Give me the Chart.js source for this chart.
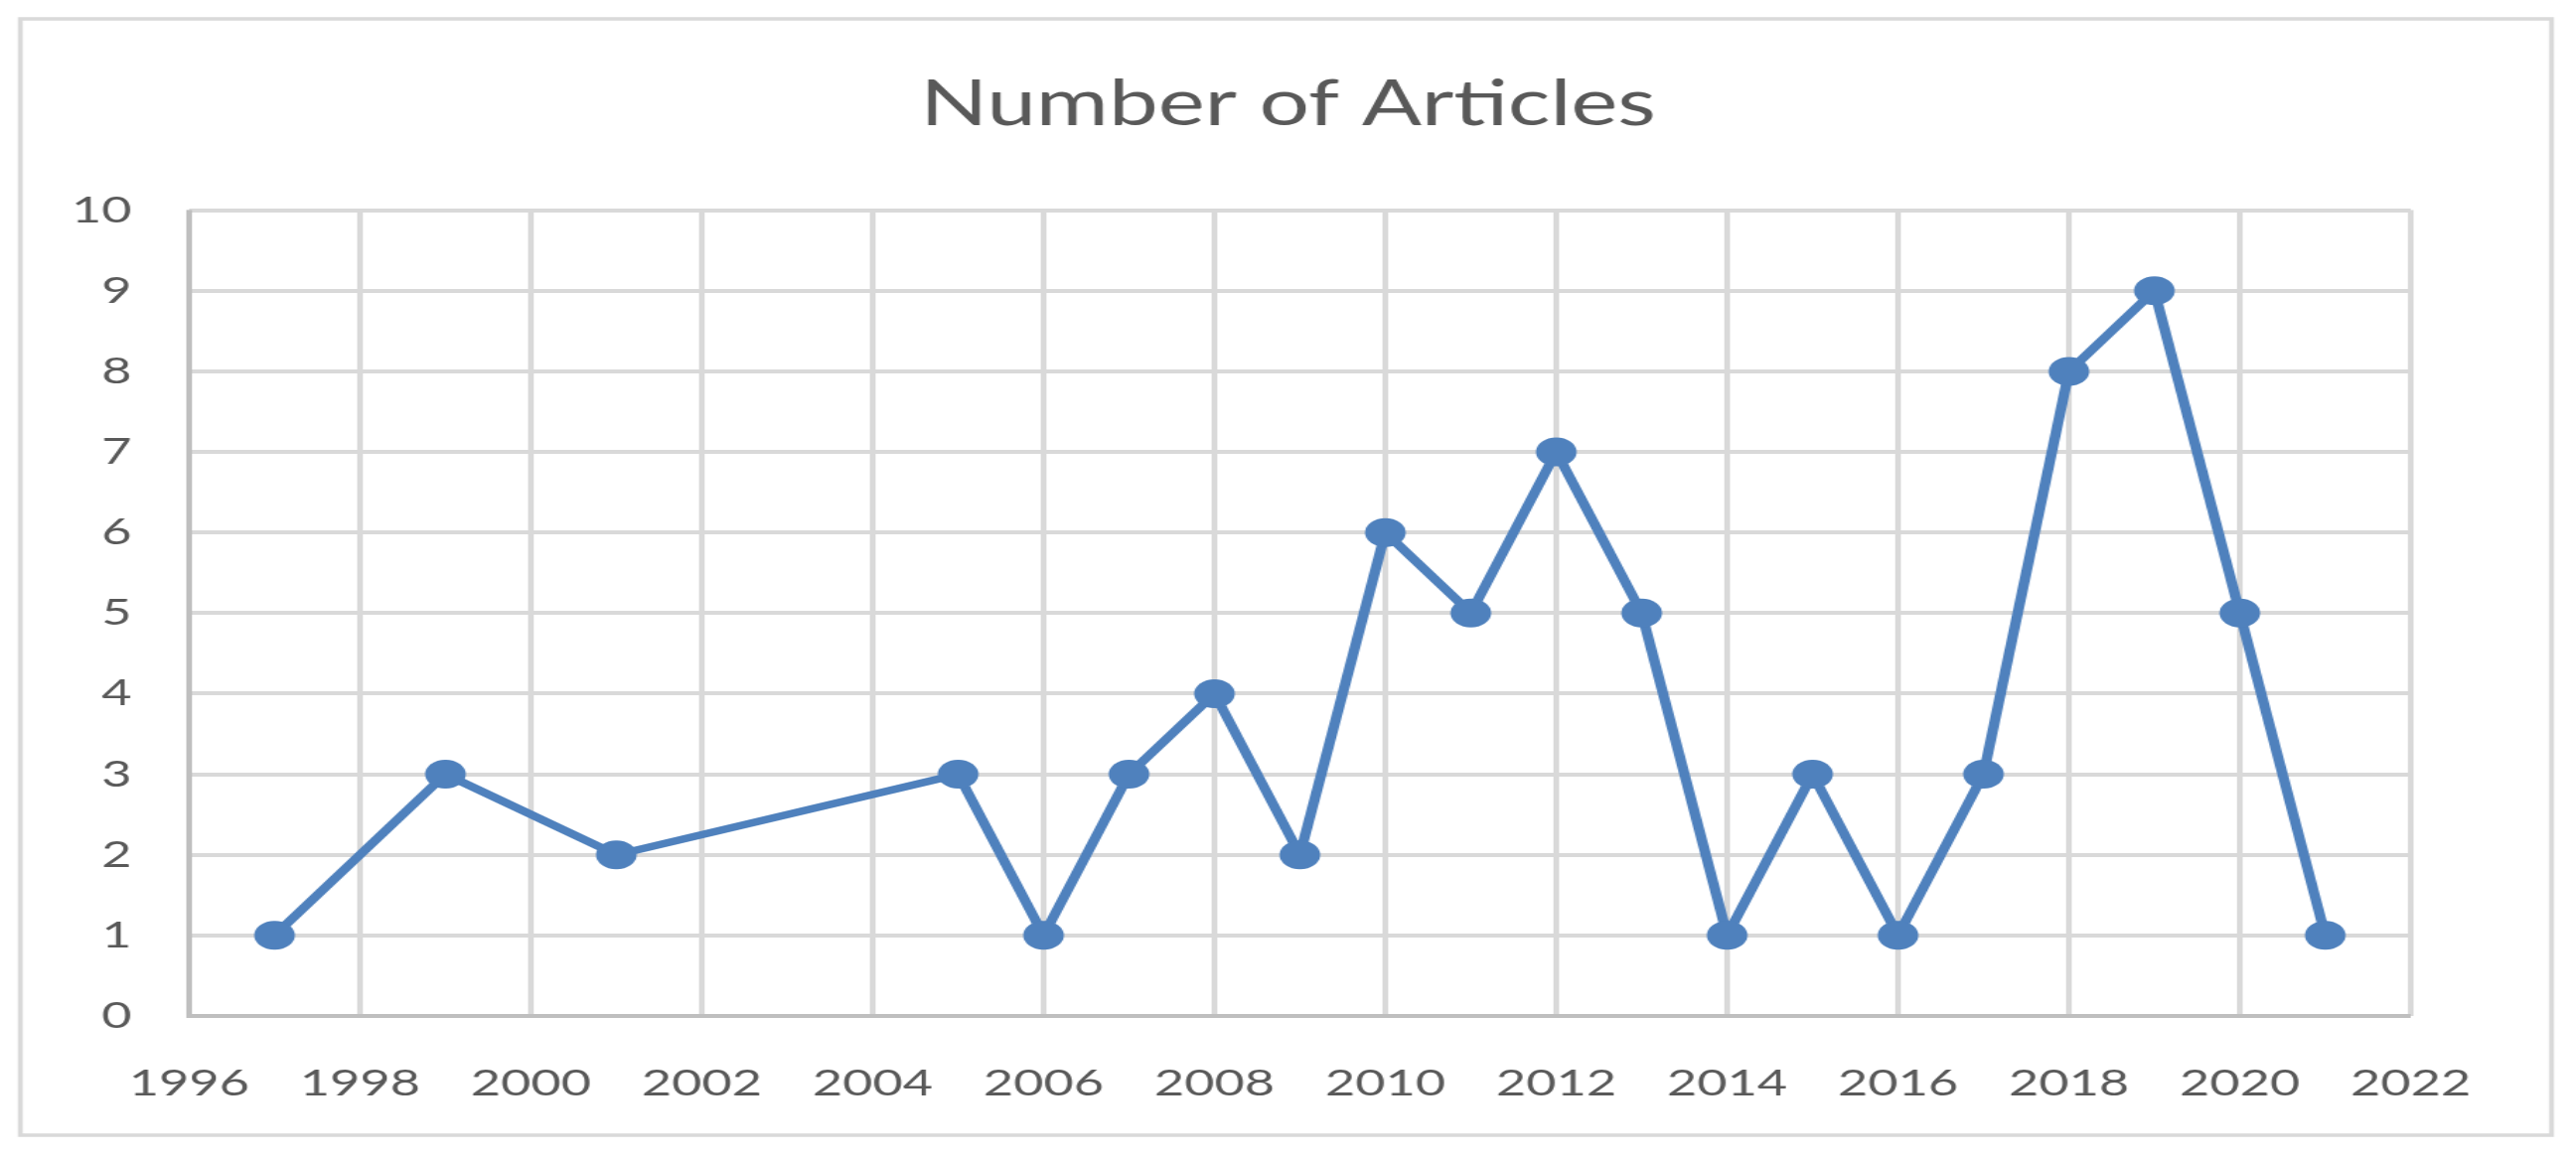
<!DOCTYPE html>
<html>
<head>
<meta charset="utf-8">
<script src="https://cdn.jsdelivr.net/npm/chart.js@4.4.0/dist/chart.umd.min.js"></script>
<style>
html,body{margin:0;padding:0;background:#fff;overflow:hidden;}
#c{position:absolute;left:0;top:0;}
</style>
</head>
<body>
<canvas id="c" width="1839" height="1168" style="width:2593px;height:1168px;"></canvas>
<script>
const years = [1997, 1999, 2001, 2005, 2006, 2007, 2008, 2009, 2010, 2011, 2012, 2013, 2014, 2015, 2016, 2017, 2018, 2019, 2020, 2021];
const articles = [1, 3, 2, 3, 1, 3, 4, 2, 6, 5, 7, 5, 1, 3, 1, 3, 8, 9, 5, 1];
const xRange = [1996, 2022];
const yRange = [0, 10];
const chartTitle = 'Number of Articles';

const points = years.map((y, i) => ({x: y, y: articles[i]}));

const borderPlugin = {
  id: 'outerBorder',
  afterLayout(chart) {
    if (chart.titleBlock) {
      chart.titleBlock.left = 0;
      chart.titleBlock.right = chart.width;
    }
  },
  beforeDraw(chart) {
    const ctx = chart.ctx;
    ctx.save();
    ctx.fillStyle = '#ffffff';
    ctx.fillRect(0, 0, chart.width, chart.height);
    ctx.strokeStyle = '#D9D9D9';
    ctx.lineWidth = 3.5;
    ctx.strokeRect(14.5, 19, 1807, 1124);
    ctx.restore();
  },
  beforeDatasetsDraw(chart) {
    const a = chart.chartArea;
    const ctx = chart.ctx;
    ctx.save();
    ctx.strokeStyle = '#BFBFBF';
    ctx.lineWidth = 4;
    ctx.beginPath();
    ctx.moveTo(a.left, a.top);
    ctx.lineTo(a.left, a.bottom);
    ctx.lineTo(a.right, a.bottom);
    ctx.stroke();
    ctx.restore();
  }
};

new Chart(document.getElementById('c'), {
  type: 'line',
  data: {
    datasets: [{
      label: chartTitle,
      data: points,
      borderColor: '#4F81BD',
      backgroundColor: '#4F81BD',
      borderWidth: 7.5,
      pointRadius: 14.5,
      pointHoverRadius: 14.5,
      pointBorderWidth: 0,
      tension: 0,
      fill: false
    }]
  },
  options: {
    responsive: false,
    animation: false,
    devicePixelRatio: 1,
    layout: {padding: {left: 0, right: 118, top: 0, bottom: 0}},
    plugins: {
      legend: {display: false},
      tooltip: {enabled: false},
      title: {
        display: true,
        text: chartTitle,
        color: '#595959',
        font: {family: 'Lato', size: 63, weight: 'normal', lineHeight: 1.2},
        padding: {top: 68, bottom: 68}
      }
    },
    scales: {
      x: {
        type: 'linear',
        min: xRange[0],
        max: xRange[1],
        afterFit(s) { s.height = 1168 - 1023; },
        ticks: {stepSize: 2, color: '#595959', font: {family: 'Lato', size: 37}, padding: 46, callback: v => String(v), maxRotation: 0, autoSkip: false},
        grid: {color: '#D9D9D9', lineWidth: 4, drawTicks: false},
        border: {display: false}
      },
      y: {
        min: yRange[0],
        max: yRange[1],
        afterFit(s) { s.width = 135; },
        ticks: {stepSize: 1, color: '#595959', font: {family: 'Lato', size: 37}, padding: 41},
        grid: {color: '#D9D9D9', lineWidth: 4, drawTicks: false},
        border: {display: false}
      }
    }
  },
  plugins: [borderPlugin]
});
</script>
</body>
</html>
